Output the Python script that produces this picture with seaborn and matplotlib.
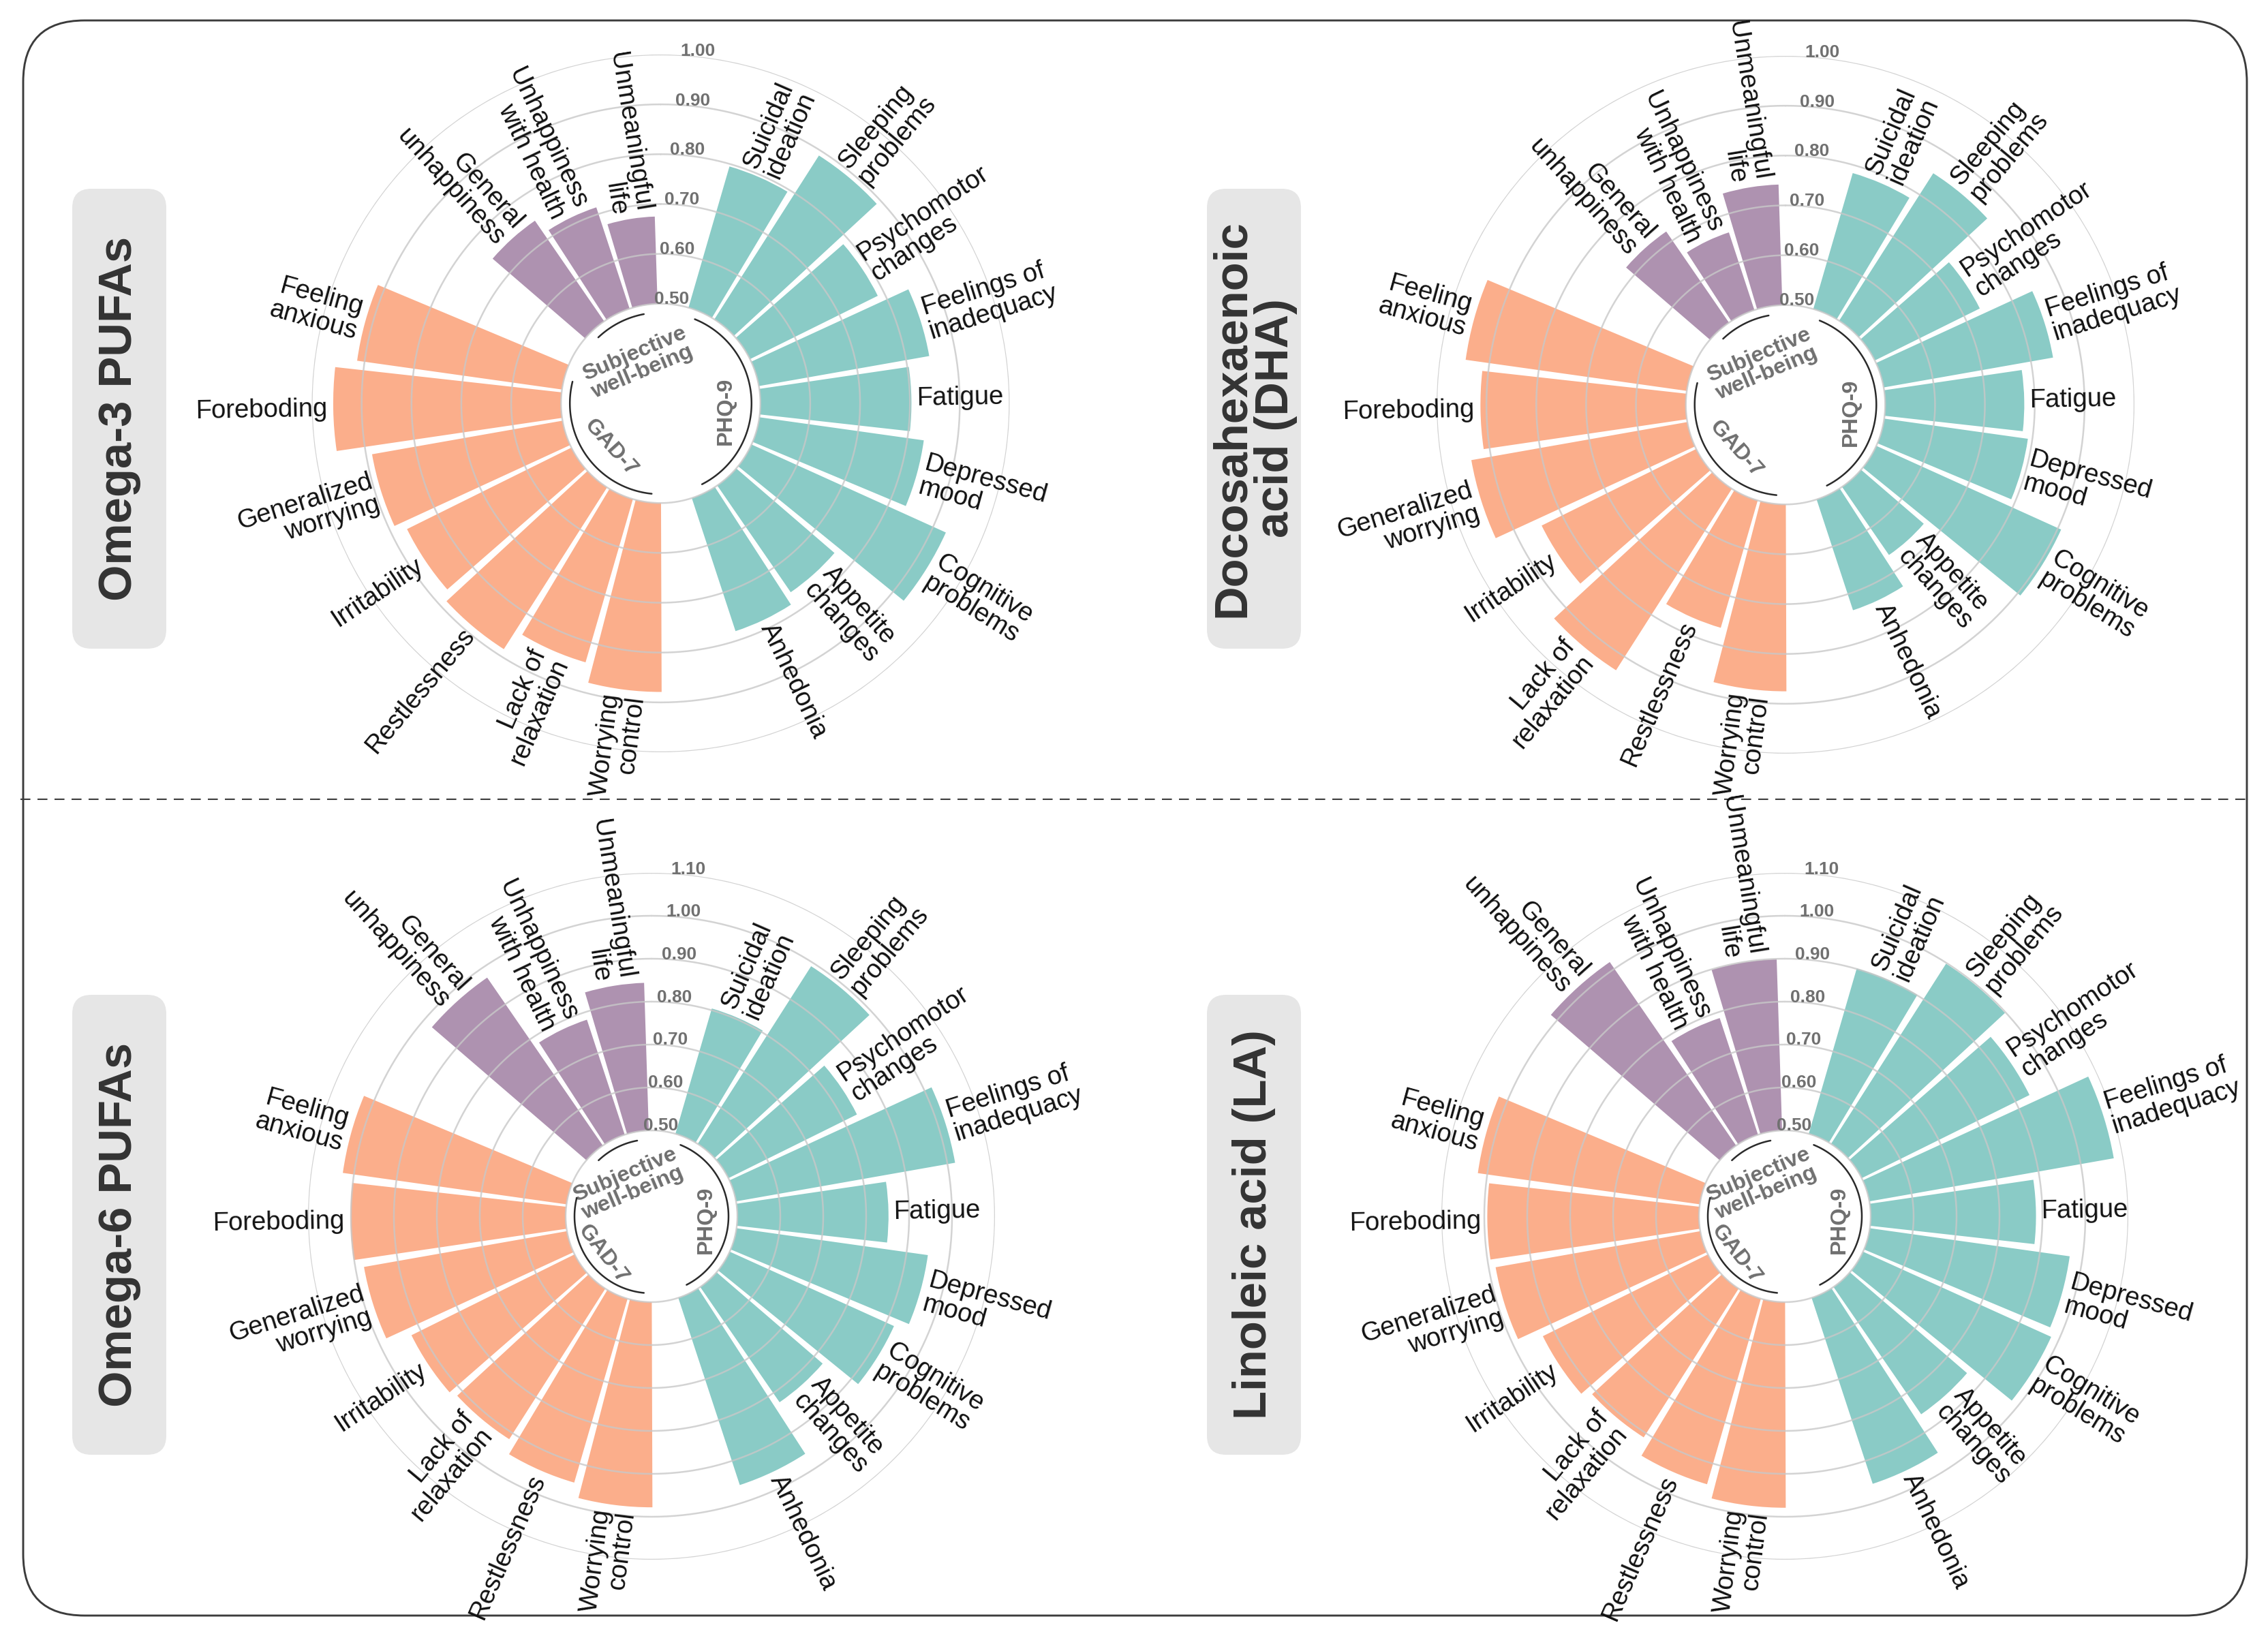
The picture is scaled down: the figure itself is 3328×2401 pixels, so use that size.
import numpy as np
import pandas as pd
import matplotlib
matplotlib.use("Agg")
import matplotlib.pyplot as plt
from matplotlib.patches import FancyBboxPatch
import seaborn as sns

# ---------------- data ----------------
PHQ_ITEMS = ["Suicidal\nideation", "Sleeping\nproblems", "Psychomotor\nchanges",
             "Feelings of\ninadequacy", "Fatigue", "Depressed\nmood",
             "Cognitive\nproblems", "Appetite\nchanges", "Anhedonia"]
GAD_ITEMS_O3 = ["Worrying\ncontrol", "Lack of\nrelaxation", "Restlessness", "Irritability",
                "Generalized\nworrying", "Foreboding", "Feeling\nanxious"]
GAD_ITEMS = ["Worrying\ncontrol", "Restlessness", "Lack of\nrelaxation", "Irritability",
             "Generalized\nworrying", "Foreboding", "Feeling\nanxious"]
SWB_ITEMS = ["General\nunhappiness", "Unhappiness\nwith health", "Unmeaningful\nlife"]

PANEL_TITLES = ["Omega-3 PUFAs", "Docosahexaenoic\nacid (DHA)", "Omega-6 PUFAs", "Linoleic acid (LA)"]
GROUP_LABELS = ["PHQ-9", "GAD-7", "Subjective\nwell-being"]

O3_PHQ = [0.795, 0.890, 0.786, 0.847, 0.803, 0.833, 0.928, 0.760, 0.781]
O3_GAD = [0.879, 0.841, 0.885, 0.868, 0.888, 0.957, 0.915]
O3_SWB = [0.745, 0.714, 0.675]

DHA_PHQ = [0.784, 0.851, 0.735, 0.845, 0.779, 0.791, 0.907, 0.666, 0.734]
DHA_GAD = [0.875, 0.766, 0.932, 0.846, 0.940, 0.912, 0.948]
DHA_SWB = [0.722, 0.664, 0.742]

O6_PHQ = [0.804, 0.991, 0.834, 1.018, 0.852, 0.950, 0.920, 0.826, 0.959]
O6_GAD = [0.978, 0.946, 0.916, 0.924, 0.980, 1.001, 1.026]
O6_SWB = [0.975, 0.782, 0.844]

LA_PHQ = [0.901, 0.998, 0.936, 1.078, 0.885, 0.970, 0.981, 0.860, 0.956]
LA_GAD = [0.979, 0.950, 0.911, 0.929, 0.984, 0.993, 1.022]
LA_SWB = [1.019, 0.786, 0.899]

TICKS_TOP = [0.50, 0.60, 0.70, 0.80, 0.90, 1.00]
TICKS_BOTTOM = [0.50, 0.60, 0.70, 0.80, 0.90, 1.00, 1.10]

# ---------------- style ----------------
sns.set_theme(style="white")
plt.rcParams['font.family'] = ['Liberation Sans', 'DejaVu Sans']
PAL = sns.color_palette(["#8ACBC6", "#FBAE8B", "#AE92B0"])
GROUP_COLORS = dict(zip(["PHQ", "GAD", "SWB"], PAL))

W, H, DPI = 3329, 2401, 300
fig = plt.figure(figsize=(W / DPI, H / DPI), dpi=DPI)
fig.patch.set_facecolor("white")

bg = fig.add_axes([0, 0, 1, 1])
bg.set_xlim(0, W)
bg.set_ylim(H, 0)
bg.axis("off")
bg.add_patch(FancyBboxPatch((34, 30), 3263, 2341,
                            boxstyle="round,pad=0,rounding_size=90",
                            fc="none", ec="#3C3C3C", lw=0.7))
bg.plot([30, 3300], [1173, 1173], color="#3C3C3C", lw=0.5, ls=(0, (7, 5)))

BOXES = [(106, 277), (1771, 277), (106, 1460), (1771, 1460)]
for (bx, by), title in zip(BOXES, PANEL_TITLES):
    bg.add_patch(FancyBboxPatch((bx, by), 138, 675,
                                boxstyle="round,pad=0,rounding_size=28",
                                fc="#E6E6E6", ec="none"))
    bg.text(bx + 69, by + 337, title, rotation=90, ha="center", va="center",
            fontsize=16.5, fontweight="bold", color="#333333", linespacing=1.0)

NSLOT = 22
SLOT = 360.0 / NSLOT
OFFSET = -1.0


def build_df(phq, gad_items, gad, swb):
    rows = []
    for i, (it, v) in enumerate(zip(PHQ_ITEMS, phq)):
        rows.append((it, "PHQ", v, 1 + i))
    for i, (it, v) in enumerate(zip(gad_items, gad)):
        rows.append((it, "GAD", v, 11 + i))
    for i, (it, v) in enumerate(zip(SWB_ITEMS, swb)):
        rows.append((it, "SWB", v, 19 + i))
    df = pd.DataFrame(rows, columns=["item", "group", "value", "slot"])
    df["angle"] = (df["slot"] + 0.5) * SLOT + OFFSET
    return df


def draw_panel(cx, cy, R, rmax, ticks, df, inner):
    ax = fig.add_axes([(cx - R) / W, 1 - (cy + R) / H, 2 * R / W, 2 * R / H],
                      projection="polar")
    ax.set_theta_zero_location("N")
    ax.set_theta_direction(-1)
    ax.set_ylim(0.3, rmax)
    ax.set_xticks([])
    ax.set_yticks([])
    ax.grid(False)
    ax.spines["polar"].set_visible(False)
    ax.patch.set_alpha(0)
    scale = R / (rmax - 0.3)  # px per unit

    width = np.deg2rad(0.9 * SLOT)
    ax.bar(np.deg2rad(df["angle"]), df["value"] - 0.5, bottom=0.5, width=width,
           color=[GROUP_COLORS[g] for g in df["group"]], edgecolor="none",
           zorder=2, align="center")

    th = np.linspace(0, 2 * np.pi, 721)
    for v in ticks:
        ax.plot(th, np.full_like(th, v), color="#C8C8C8", lw=0.6, alpha=0.8, zorder=3)
        ax.text(np.deg2rad(6.0), v + 8 / scale, f"{v:.2f}", ha="center", va="center",
                fontsize=6.3, fontweight="bold", color="#707070", zorder=6)

    off = 8 / scale
    for _, r in df.iterrows():
        a = r["angle"]
        if a < 180:
            rot, ha = 90 - a, "left"
        else:
            rot, ha = 270 - a, "right"
        ax.text(np.deg2rad(a), r["value"] + off, r["item"], rotation=rot,
                rotation_mode="anchor", ha=ha, va="center", multialignment=ha,
                fontsize=9.2, color="#111111", linespacing=1.0, zorder=7)

    # inner group arcs
    r_arc = 0.5 - 13 / scale
    for g in ["PHQ", "GAD", "SWB"]:
        sub = df[df["group"] == g]
        a0, a1 = sub["angle"].min() - 1.5, sub["angle"].max() - 1.5
        tt = np.deg2rad(np.linspace(a0, a1, 100))
        ax.plot(tt, np.full_like(tt, r_arc), color="#2B2B2B", lw=0.6, zorder=4)

    lab_col = "#6F6F6F"
    (pa, pr), (ga, gr, grot), (sa, sr) = inner
    ax.text(np.deg2rad(pa), 0.3 + pr / scale, GROUP_LABELS[0], rotation=90,
            ha="center", va="center", fontsize=7.8, fontweight="bold", color=lab_col)
    ax.text(np.deg2rad(ga), 0.3 + gr / scale, GROUP_LABELS[1], rotation=grot,
            ha="center", va="center", fontsize=7.8, fontweight="bold", color=lab_col)
    ax.text(np.deg2rad(sa), 0.3 + sr / scale, GROUP_LABELS[2], rotation=23,
            ha="center", va="center", fontsize=7.8, fontweight="bold", color=lab_col,
            linespacing=0.95)


INNER_TOP = ((96.5, 96), (228, 98, -48), (331, 68))
INNER_BOTTOM = ((94, 80), (232, 90, -52), (325, 58))

panels = [
    (969.5, 592, 512, 1.0, TICKS_TOP, build_df(O3_PHQ, GAD_ITEMS_O3, O3_GAD, O3_SWB), INNER_TOP),
    (2620, 594, 512, 1.0, TICKS_TOP, build_df(DHA_PHQ, GAD_ITEMS, DHA_GAD, DHA_SWB), INNER_TOP),
    (956, 1785, 504, 1.1, TICKS_BOTTOM, build_df(O6_PHQ, GAD_ITEMS, O6_GAD, O6_SWB), INNER_BOTTOM),
    (2619, 1785, 504, 1.1, TICKS_BOTTOM, build_df(LA_PHQ, GAD_ITEMS, LA_GAD, LA_SWB), INNER_BOTTOM),
]
for p in panels:
    draw_panel(*p)

fig.savefig("out.png", dpi=DPI, facecolor="white")
